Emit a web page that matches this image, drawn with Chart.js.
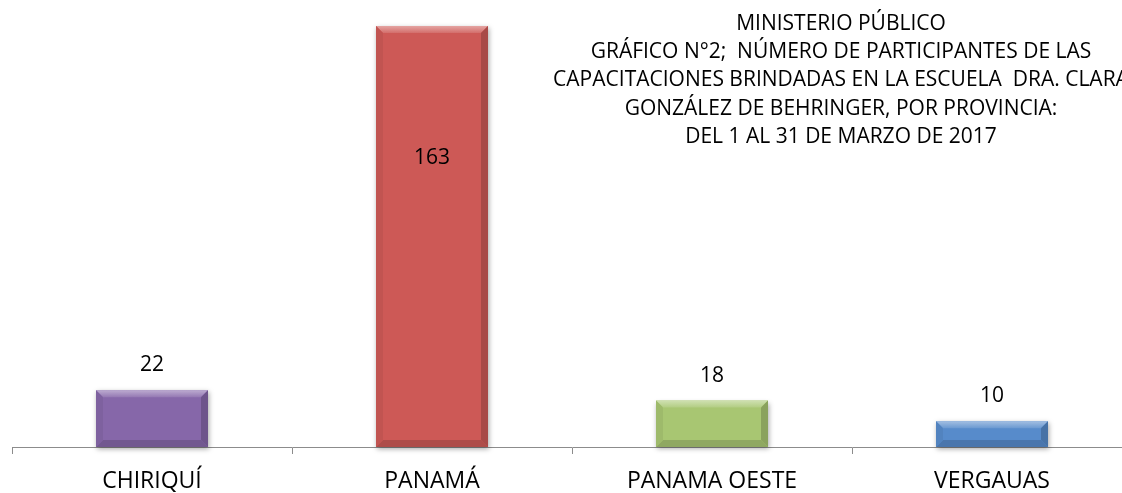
<!DOCTYPE html>
<html lang="es">
<head>
<meta charset="utf-8">
<title>Participantes por provincia</title>
<script src="https://cdn.jsdelivr.net/npm/chart.js@4/dist/chart.umd.min.js"></script>
<style>
  html, body { margin: 0; padding: 0; background: #fff; overflow: hidden; }
  #wrap { width: 1122px; height: 493px; overflow: hidden; }
</style>
</head>
<body>
<div id="wrap"><canvas id="grafico" width="1132" height="493"></canvas></div>
<script>
const provincias = ['CHIRIQUÍ', 'PANAMÁ', 'PANAMA OESTE', 'VERGAUAS'];
const participantes = [22, 163, 18, 10];
const coloresBarra = ['#8667a9', '#cd5956', '#a8c672', '#578bcb'];
const lineasTitulo = [
  'MINISTERIO PÚBLICO',
  'GRÁFICO N°2;  NÚMERO DE PARTICIPANTES DE LAS',
  'CAPACITACIONES BRINDADAS EN LA ESCUELA  DRA. CLARA',
  'GONZÁLEZ DE BEHRINGER, POR PROVINCIA:',
  'DEL 1 AL 31 DE MARZO DE 2017'
];

const FUENTE = '"Open Sans", Calibri, sans-serif';

function aclarar(hex, f) {
  const n = parseInt(hex.slice(1), 16);
  let r = n >> 16, g = (n >> 8) & 255, b = n & 255;
  if (f > 0) { r += (255 - r) * f; g += (255 - g) * f; b += (255 - b) * f; }
  else { r *= (1 + f); g *= (1 + f); b *= (1 + f); }
  return 'rgb(' + Math.round(r) + ',' + Math.round(g) + ',' + Math.round(b) + ')';
}

// relieve biselado sobre cada barra
const bisel = {
  id: 'bisel',
  beforeDatasetsDraw(chart) {
    const ctx = chart.ctx;
    chart.getDatasetMeta(0).data.forEach((bar) => {
      const x0 = bar.x - bar.width / 2, x1 = bar.x + bar.width / 2;
      ctx.save();
      ctx.shadowColor = 'rgba(0,0,0,0.35)';
      ctx.shadowBlur = 5;
      ctx.shadowOffsetX = 1;
      ctx.shadowOffsetY = 2;
      ctx.fillStyle = '#fff';
      ctx.fillRect(x0, bar.y, x1 - x0, bar.base - bar.y);
      ctx.restore();
    });
  },
  afterDatasetsDraw(chart) {
    const ctx = chart.ctx;
    chart.getDatasetMeta(0).data.forEach((bar, i) => {
      const c = coloresBarra[i];
      const x0 = bar.x - bar.width / 2, x1 = bar.x + bar.width / 2;
      const y0 = bar.y, y1 = bar.base;
      const b = 7;
      ctx.save();
      // arriba claro
      let g = ctx.createLinearGradient(0, y0, 0, y0 + b);
      g.addColorStop(0, aclarar(c, 0.45));
      g.addColorStop(1, aclarar(c, 0.12));
      ctx.fillStyle = g;
      ctx.beginPath();
      ctx.moveTo(x0, y0); ctx.lineTo(x1, y0); ctx.lineTo(x1 - b, y0 + b); ctx.lineTo(x0 + b, y0 + b);
      ctx.closePath(); ctx.fill();
      // abajo oscuro
      ctx.fillStyle = aclarar(c, -0.15);
      ctx.beginPath();
      ctx.moveTo(x0, y1); ctx.lineTo(x1, y1); ctx.lineTo(x1 - b, y1 - b); ctx.lineTo(x0 + b, y1 - b);
      ctx.closePath(); ctx.fill();
      // lados
      ctx.fillStyle = aclarar(c, -0.06);
      ctx.beginPath();
      ctx.moveTo(x0, y0); ctx.lineTo(x0 + b, y0 + b); ctx.lineTo(x0 + b, y1 - b); ctx.lineTo(x0, y1);
      ctx.closePath(); ctx.fill();
      ctx.fillStyle = aclarar(c, -0.18);
      ctx.beginPath();
      ctx.moveTo(x1, y0); ctx.lineTo(x1 - b, y0 + b); ctx.lineTo(x1 - b, y1 - b); ctx.lineTo(x1, y1);
      ctx.closePath(); ctx.fill();
      ctx.restore();
    });
  }
};

// etiquetas de valores y titulo
const textos = {
  id: 'textos',
  afterDraw(chart) {
    const ctx = chart.ctx;
    ctx.save();
    ctx.fillStyle = '#000';
    ctx.textAlign = 'center';
    ctx.textBaseline = 'middle';
    ctx.font = '21px ' + FUENTE;
    chart.getDatasetMeta(0).data.forEach((bar, i) => {
      const v = participantes[i];
      const y = v > 100 ? bar.y + 132 : bar.y - 25;
      ctx.fillText(String(v), bar.x, y);
    });
    ctx.font = '21px ' + FUENTE;
    lineasTitulo.forEach((t, i) => {
      ctx.fillText(t, 841, 24 + i * 28.2);
    });
    ctx.restore();
  }
};

new Chart(document.getElementById('grafico'), {
  type: 'bar',
  data: {
    labels: provincias,
    datasets: [{
      data: participantes,
      backgroundColor: coloresBarra,
      borderWidth: 0,
      barPercentage: 0.4,
      categoryPercentage: 1
    }]
  },
  options: {
    responsive: false,
    animation: false,
    layout: { padding: { left: 12, right: 0, top: 8, bottom: 0 } },
    plugins: { legend: { display: false }, tooltip: { enabled: false } },
    scales: {
      y: { display: false, min: 0, max: 170 },
      x: {
        afterFit(scale) { scale.height = 46; },
        grid: { drawOnChartArea: false, color: '#8c8c8c', tickLength: 7, offset: true },
        border: { color: '#8c8c8c', width: 1 },
        ticks: { color: '#000', font: { family: FUENTE, size: 23 }, padding: 14, maxRotation: 0 }
      }
    }
  },
  plugins: [bisel, textos]
});
</script>
</body>
</html>
